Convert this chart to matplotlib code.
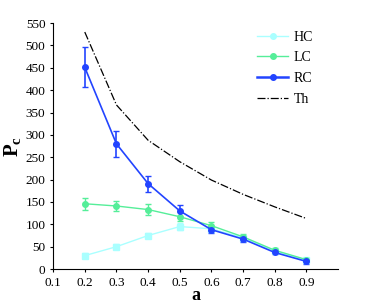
import matplotlib.pyplot as plt
from matplotlib.lines import Line2D

plt.rcParams['font.family'] = ['Liberation Serif', 'DejaVu Serif']
plt.rcParams['mathtext.fontset'] = 'custom'
plt.rcParams['mathtext.rm'] = 'Liberation Serif'
plt.rcParams['mathtext.bf'] = 'Liberation Serif:bold'

a = [0.2, 0.3, 0.4, 0.5, 0.6, 0.7, 0.8, 0.9]
hc = [30, 50, 75, 95, 90, 70, 40, 20]
hc_err = [5, 5, 6, 8, 6, 5, 4, 3]
lc = [146, 141, 133, 117, 97, 72, 42, 21]
lc_err = [13, 12, 12, 10, 8, 6, 4, 3]
rc = [451, 280, 191, 130, 88, 67, 37, 17]
rc_err = [45, 29, 18, 13, 8, 6, 4, 5]
th = [530, 367, 288, 240, 199, 167, 139, 113]

c_hc, c_lc, c_rc = '#aaffff', '#55ee99', '#2244ff'

fig = plt.figure(figsize=(3.74, 3.04), dpi=100)
ax = fig.add_axes([0.142, 0.115, 0.762, 0.809])

ax.errorbar(a, hc, yerr=hc_err, color=c_hc, marker='s', ms=4, lw=1, capsize=2)
ax.errorbar(a, lc, yerr=lc_err, color=c_lc, marker='o', ms=4, lw=1, capsize=2)
ax.errorbar(a, rc, yerr=rc_err, color=c_rc, marker='o', ms=4, lw=1.2, capsize=2)
ax.plot(a, th, color='black', ls='-.', lw=0.9)

ax.set_xlim(0.1, 1.0)
ax.set_ylim(0, 550)
ax.set_xticks([0.1, 0.2, 0.3, 0.4, 0.5, 0.6, 0.7, 0.8, 0.9])
ax.set_yticks(range(0, 551, 50))
ax.spines['top'].set_visible(False)
ax.spines['right'].set_visible(False)
ax.tick_params(labelsize=9.5, direction='out', length=2.5, pad=3)
ax.set_xlabel('a', fontsize=13, fontweight='bold', labelpad=-1)
ax.set_ylabel(r'$\mathbf{P_c}$', fontsize=15, labelpad=2)

handles = [
    Line2D([], [], color=c_hc, marker='o', ms=4, lw=1),
    Line2D([], [], color=c_lc, marker='o', ms=4, lw=1),
    Line2D([], [], color=c_rc, marker='o', ms=4, lw=1.8),
    Line2D([], [], color='black', ls='-.', lw=0.9),
]
ax.legend(handles, ['HC', 'LC', 'RC', 'Th'], loc='upper right',
          bbox_to_anchor=(0.955, 1.02), frameon=False, fontsize=10,
          handlelength=2.2, labelspacing=0.55, handletextpad=0.4)

plt.savefig('out.png')
